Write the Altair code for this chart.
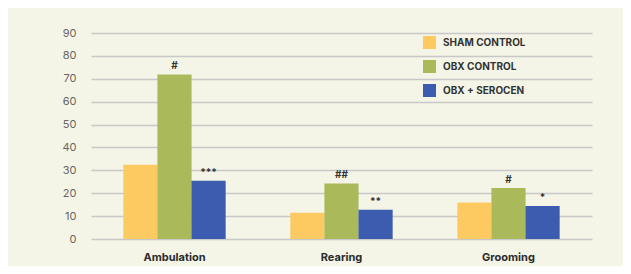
import altair as alt
import pandas as pd

categories = ["Ambulation", "Rearing", "Grooming"]
groups = ["SHAM CONTROL", "OBX CONTROL", "OBX + SEROCEN"]
sham = [32.4, 11.5, 16.0]
obx = [71.9, 24.3, 22.3]
serocen = [25.4, 12.8, 14.4]
sham_marks = ["", "", ""]
obx_marks = ["#", "##", "#"]
serocen_marks = ["***", "**", "*"]
colors = ["#FDC961", "#AABA5A", "#3C5DAF"]
y_ticks = [0, 10, 20, 30, 40, 50, 60, 70, 80, 90]

rows = []
for series, vals, marks in zip(groups, [sham, obx, serocen], [sham_marks, obx_marks, serocen_marks]):
    for c, v, m in zip(categories, vals, marks):
        rows.append({"category": c, "group": series, "value": v, "mark": m})
df = pd.DataFrame(rows)

FONT = "Inter"

x = alt.X("category:N", sort=categories, title=None,
          scale=alt.Scale(range=[10, 511], paddingInner=0.388, paddingOuter=0.194),
          axis=alt.Axis(labelAngle=0, ticks=False, domain=False, labelPadding=12,
                        labelFont=FONT, labelFontSize=11, labelFontWeight="bold",
                        labelColor="#2b2b2b"))
xo = alt.XOffset("group:N", sort=groups, scale=alt.Scale(paddingInner=0, paddingOuter=0))
y = alt.Y("value:Q", title=None,
          scale=alt.Scale(domain=[0, 90], nice=False),
          axis=alt.Axis(values=y_ticks, ticks=False, domain=False, labelPadding=5,
                        labelFont=FONT, labelFontSize=11, labelColor="#666666",
                        gridColor="#C8C8C8", gridWidth=1.5))

bars = alt.Chart(df).mark_bar(size=34.2).encode(
    x=x, xOffset=xo, y=y,
    color=alt.Color("group:N", sort=groups,
                    scale=alt.Scale(domain=groups, range=colors),
                    legend=alt.Legend(title=None, orient="none", legendX=342, legendY=3,
                                      symbolType="square", symbolSize=169,
                                      symbolStrokeWidth=0, symbolOpacity=1,
                                      rowPadding=11, labelOffset=7,
                                      labelFont=FONT, labelFontSize=10,
                                      labelFontWeight="bold", labelColor="#333333")),
)

texts = alt.Chart(df).mark_text(baseline="bottom", dy=-3, font=FONT, fontSize=10,
                                fontWeight="bold", color="#333333").encode(
    x=x, xOffset=xo, y=y, text="mark:N",
)

chart = alt.layer(bars, texts).properties(
    width=532, height=206,
    autosize=alt.AutoSizeParams(type="none"),
    padding={"left": 73, "top": 25, "right": 10, "bottom": 27},
    background="#F4F5E7",
).configure_view(stroke=None)

chart.save("out.html", embed_options={"renderer": "svg", "actions": False})
